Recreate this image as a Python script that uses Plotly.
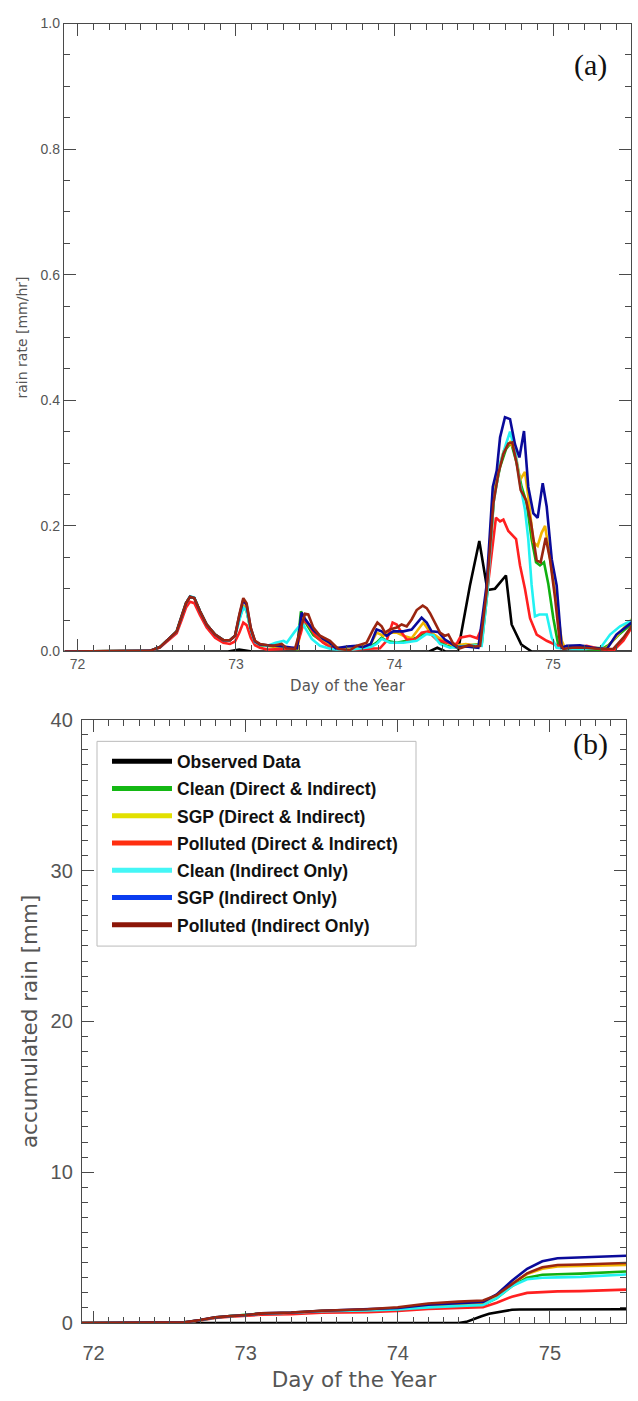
import plotly.graph_objects as go

# ---------------- panel (a): rain rate [mm/hr] ----------------
# shared first segment (71.92 - 73.15)
tA = [71.92, 72.40, 72.457, 72.52, 72.573, 72.626, 72.657, 72.685, 72.71, 72.737, 72.773,
      72.815, 72.868, 72.92, 72.962, 72.994, 73.021, 73.046, 73.067, 73.093, 73.12, 73.151]

obs_t = [71.92, 72.95, 73.02, 73.10, 74.22, 74.27, 74.32, 74.40, 74.476, 74.535, 74.586,
         74.634, 74.703, 74.739, 74.80, 74.865, 75.50]
obs_r = [0, 0, 0.003, 0, 0, 0.006, 0, 0, 0.105, 0.176, 0.098, 0.10, 0.121, 0.043, 0.011, 0, 0]

pid_t = tA + [73.2, 73.235, 73.288, 73.32, 73.372, 73.404, 73.435, 73.456, 73.488, 73.53, 73.593,
              73.645, 73.719, 73.761, 73.824, 73.866, 73.892, 73.919, 73.94, 73.971, 74.014,
              74.045, 74.077, 74.108, 74.14, 74.178, 74.203, 74.224, 74.255, 74.287, 74.318,
              74.34, 74.371, 74.413, 74.47, 74.51, 74.54,
              74.581, 74.624, 74.655, 74.687, 74.718, 74.743, 74.771, 74.796, 74.83, 74.861,
              74.897, 74.922, 74.954, 74.981, 75.013, 75.044, 75.065,
              75.12, 75.2, 75.3, 75.38, 75.444, 75.5]
pid_r = [0, 0, 0.001, 0.007, 0.019, 0.032, 0.056, 0.077, 0.087, 0.085, 0.064, 0.043, 0.027,
         0.018, 0.018, 0.025, 0.059, 0.085, 0.077, 0.038, 0.017, 0.012] + \
        [0.010, 0.009, 0.012, 0.005, 0.004, 0.032, 0.060, 0.059, 0.038, 0.025, 0.017,
         0.004, 0.002, 0.009, 0.014, 0.035, 0.046, 0.040, 0.030, 0.035, 0.038,
         0.043, 0.040, 0.051, 0.066, 0.073, 0.069, 0.061, 0.046, 0.030, 0.025,
         0.027, 0.012, 0.005, 0.010, 0.008, 0.009,
         0.095, 0.236, 0.283, 0.315, 0.331, 0.333, 0.299, 0.257, 0.241, 0.205,
         0.145, 0.142, 0.181, 0.147, 0.085, 0.012, 0.004,
         0.006, 0.006, 0.004, 0.004, 0.022, 0.042]

sio_t = tA + [73.2, 73.25, 73.3, 73.385, 73.40, 73.414, 73.435, 73.488, 73.55, 73.59, 73.63,
              73.70, 73.76, 73.80, 73.85, 73.887, 73.919, 73.95, 73.992, 74.056, 74.108,
              74.144, 74.171, 74.203, 74.234, 74.276, 74.318, 74.35, 74.392, 74.45, 74.5,
              74.529, 74.581, 74.62, 74.645, 74.666, 74.697, 74.729, 74.76, 74.788, 74.817,
              74.844, 74.876, 74.903, 74.935, 74.96, 74.992, 75.023, 75.055,
              75.086, 75.17, 75.25, 75.34, 75.40, 75.5]
sio_r = [0, 0, 0.001, 0.007, 0.019, 0.032, 0.056, 0.077, 0.087, 0.085, 0.064, 0.043, 0.027,
         0.018, 0.018, 0.025, 0.057, 0.082, 0.074, 0.037, 0.016, 0.011] + \
        [0.010, 0.009, 0.008, 0.005, 0.040, 0.062, 0.052, 0.034, 0.020, 0.014, 0.005,
         0.008, 0.009, 0.007, 0.012, 0.035, 0.032, 0.025, 0.032, 0.032, 0.035,
         0.046, 0.054, 0.046, 0.032, 0.031, 0.019, 0.014, 0.007, 0.008, 0.006,
         0.006, 0.105, 0.262, 0.288, 0.341, 0.373, 0.370, 0.330, 0.309, 0.351,
         0.262, 0.220, 0.213, 0.268, 0.231, 0.147, 0.105, 0.006,
         0.009, 0.010, 0.006, 0.004, 0.027, 0.047]

sdi_t = tA + [73.2, 73.25, 73.3, 73.388, 73.405, 73.42, 73.45, 73.49, 73.55, 73.61, 73.7,
              73.8, 73.85, 73.887, 73.93, 73.971, 74.014, 74.056, 74.108, 74.15, 74.182,
              74.213, 74.255, 74.308, 74.371, 74.45, 74.5, 74.55,
              74.586, 74.624, 74.655, 74.69, 74.729, 74.76, 74.792, 74.823, 74.844, 74.876,
              74.903, 74.928, 74.95, 74.977, 75.013, 75.055, 75.076,
              75.15, 75.25, 75.34, 75.42, 75.5]
sdi_r = [0, 0, 0.001, 0.007, 0.019, 0.032, 0.056, 0.077, 0.087, 0.085, 0.064, 0.043, 0.027,
         0.018, 0.018, 0.025, 0.053, 0.074, 0.066, 0.034, 0.015, 0.011] + \
        [0.009, 0.008, 0.006, 0.004, 0.035, 0.056, 0.045, 0.030, 0.017, 0.007, 0.004,
         0.008, 0.012, 0.030, 0.025, 0.030, 0.030, 0.025, 0.021, 0.035, 0.046,
         0.035, 0.026, 0.017, 0.009, 0.012, 0.010, 0.012,
         0.106, 0.262, 0.288, 0.320, 0.333, 0.320, 0.273, 0.286, 0.247, 0.174,
         0.168, 0.189, 0.200, 0.158, 0.095, 0.017, 0.005,
         0.005, 0.005, 0.006, 0.030, 0.052]

cdi_t = tA + [73.2, 73.25, 73.3, 73.385, 73.40, 73.41, 73.446, 73.488, 73.55, 73.61, 73.7,
              73.8, 73.85, 73.887, 73.919, 73.95, 74.014, 74.077, 74.14, 74.192, 74.234,
              74.276, 74.329, 74.4, 74.47, 74.55,
              74.586, 74.628, 74.666, 74.703, 74.735, 74.767, 74.802, 74.834, 74.865, 74.893,
              74.918, 74.943, 74.97, 75.002, 75.034,
              75.1, 75.2, 75.3, 75.35, 75.42, 75.5]
cdi_r = [0, 0, 0.001, 0.007, 0.019, 0.032, 0.056, 0.077, 0.087, 0.085, 0.064, 0.043, 0.027,
         0.018, 0.018, 0.025, 0.052, 0.072, 0.065, 0.034, 0.015, 0.010] + \
        [0.009, 0.008, 0.006, 0.004, 0.045, 0.064, 0.043, 0.026, 0.015, 0.006, 0.003,
         0.006, 0.008, 0.014, 0.022, 0.017, 0.014, 0.017, 0.022, 0.030, 0.027,
         0.017, 0.009, 0.006, 0.010, 0.012,
         0.095, 0.247, 0.294, 0.322, 0.333, 0.304, 0.262, 0.236, 0.179, 0.142,
         0.137, 0.142, 0.108, 0.053, 0.009,
         0.005, 0.004, 0.003, 0.010, 0.028, 0.045]

cio_t = tA + [73.2, 73.25, 73.3, 73.32, 73.372, 73.404, 73.418, 73.435, 73.478, 73.53, 73.6,
              73.7, 73.8, 73.85, 73.887, 73.919, 73.971, 74.056, 74.14, 74.203, 74.245,
              74.287, 74.35, 74.42, 74.48, 74.55,
              74.586, 74.624, 74.666, 74.703, 74.729, 74.76, 74.792, 74.823, 74.844, 74.865,
              74.886, 74.914, 74.96, 74.992, 75.023,
              75.1, 75.2, 75.3, 75.36, 75.423, 75.5]
cio_r = [0, 0, 0.001, 0.007, 0.019, 0.032, 0.056, 0.077, 0.088, 0.086, 0.064, 0.043, 0.027,
         0.018, 0.018, 0.025, 0.050, 0.070, 0.065, 0.035, 0.015, 0.011] + \
        [0.009, 0.014, 0.017, 0.014, 0.032, 0.042, 0.046, 0.038, 0.020, 0.009, 0.004,
         0.002, 0.005, 0.007, 0.012, 0.020, 0.014, 0.014, 0.017, 0.028, 0.026,
         0.012, 0.006, 0.008, 0.010, 0.009,
         0.095, 0.236, 0.299, 0.330, 0.350, 0.320, 0.267, 0.226, 0.179, 0.106,
         0.056, 0.059, 0.059, 0.022, 0.006,
         0.004, 0.004, 0.006, 0.027, 0.040, 0.050]

pdi_t = tA + [73.2, 73.3, 73.38, 73.41, 73.43, 73.46, 73.5, 73.55, 73.6, 73.7, 73.8, 73.866,
              73.908, 73.95, 73.988, 74.014, 74.045, 74.077, 74.129, 74.171, 74.213, 74.266,
              74.329, 74.392, 74.413, 74.476, 74.522,
              74.56, 74.602, 74.64, 74.666, 74.687, 74.718, 74.739, 74.767, 74.792, 74.823,
              74.855, 74.897, 74.96, 75.023, 75.086,
              75.15, 75.212, 75.3, 75.38, 75.444, 75.5]
pdi_r = [0, 0, 0.001, 0.006, 0.017, 0.029, 0.050, 0.070, 0.079, 0.077, 0.058, 0.038, 0.022,
         0.014, 0.012, 0.016, 0.030, 0.046, 0.042, 0.022, 0.010, 0.006] + \
        [0.003, 0.004, 0.006, 0.030, 0.050, 0.042, 0.025, 0.014, 0.006, 0.002, 0.004, 0.004,
         0.005, 0.017, 0.046, 0.043, 0.030, 0.019, 0.019, 0.030, 0.032, 0.019,
         0.014, 0.012, 0.022, 0.025, 0.021,
         0.043, 0.137, 0.213, 0.207, 0.210, 0.192, 0.187, 0.179, 0.137, 0.100,
         0.053, 0.027, 0.017, 0.010, 0.005,
         0.007, 0.009, 0.004, 0.001, 0.017, 0.040]

# ---------------- panel (b): accumulated rain [mm] ----------------
acc_obs_t = [71.92, 74.40, 74.45, 74.50, 74.55, 74.60, 74.65, 74.70, 74.75, 74.80, 75.50]
acc_obs = [0, 0, 0.08, 0.28, 0.45, 0.62, 0.72, 0.83, 0.88, 0.90, 0.92]

acc_t = [71.92, 72.45, 72.6, 72.7, 72.8, 72.9, 73.0, 73.1, 73.3, 73.5, 73.8, 74.0, 74.2,
         74.4, 74.56, 74.65, 74.75, 74.85, 74.95, 75.05, 75.2, 75.5]
acc_cdi = [0, 0, 0.05, 0.19, 0.37, 0.46, 0.52, 0.62, 0.67, 0.80, 0.85, 0.92, 1.05, 1.15,
           1.20, 1.65, 2.45, 3.00, 3.20, 3.24, 3.28, 3.42]
acc_sdi = [0, 0, 0.05, 0.19, 0.37, 0.46, 0.52, 0.62, 0.68, 0.82, 0.88, 0.97, 1.15, 1.27,
           1.33, 1.80, 2.60, 3.25, 3.60, 3.76, 3.78, 3.85]
acc_pdi = [0, 0, 0.05, 0.18, 0.34, 0.42, 0.47, 0.55, 0.58, 0.68, 0.72, 0.80, 0.93, 1.00,
           1.05, 1.35, 1.75, 2.00, 2.07, 2.10, 2.12, 2.22]
acc_cio = [0, 0, 0.05, 0.19, 0.37, 0.46, 0.52, 0.62, 0.68, 0.78, 0.84, 0.90, 1.04, 1.14,
           1.20, 1.65, 2.45, 2.90, 3.00, 3.03, 3.06, 3.22]
acc_sio = [0, 0, 0.05, 0.20, 0.38, 0.47, 0.53, 0.64, 0.70, 0.82, 0.90, 1.00, 1.22, 1.33,
           1.40, 1.90, 2.80, 3.60, 4.10, 4.30, 4.35, 4.46]
acc_pio = [0, 0, 0.05, 0.20, 0.38, 0.47, 0.53, 0.64, 0.70, 0.82, 0.92, 1.05, 1.30, 1.42,
           1.50, 1.85, 2.60, 3.30, 3.70, 3.85, 3.88, 3.98]

names = ["Observed Data", "Clean (Direct & Indirect)", "SGP (Direct & Indirect)",
         "Polluted (Direct & Indirect)", "Clean (Indirect Only)", "SGP (Indirect Only)",
         "Polluted (Indirect Only)"]
line_colors = ["#000000", "#10b010", "#f2b400", "#ff2020", "#22f2f2", "#0a0a9a", "#9a2510"]
legend_colors = ["#000000", "#14b814", "#e2e000", "#ff2e10", "#44f6f6", "#0a3cf0", "#8c1608"]

rate_series = [(obs_t, obs_r), (cdi_t, cdi_r), (sdi_t, sdi_r), (pdi_t, pdi_r),
               (cio_t, cio_r), (sio_t, sio_r), (pid_t, pid_r)]
acc_series = [(acc_obs_t, acc_obs), (acc_t, acc_cdi), (acc_t, acc_sdi), (acc_t, acc_pdi),
              (acc_t, acc_cio), (acc_t, acc_sio), (acc_t, acc_pio)]

fig = go.Figure()
for (t, r), c in zip(rate_series, line_colors):
    fig.add_trace(go.Scatter(x=t, y=r, mode="lines", line=dict(color=c, width=2.6),
                             showlegend=False, xaxis="x", yaxis="y"))
for (t, v), c in zip(acc_series, line_colors):
    fig.add_trace(go.Scatter(x=t, y=v, mode="lines", line=dict(color=c, width=2.6),
                             showlegend=False, xaxis="x2", yaxis="y2"))
for i, (c, n) in enumerate(zip(legend_colors, names)):
    fig.add_trace(go.Scatter(x=[None], y=[None], mode="lines", line=dict(color=c, width=5),
                             name=n, legendgroup="g%d" % i, showlegend=True,
                             xaxis="x2", yaxis="y2"))
# empty traces that only carry the overlaid tick axes
fig.add_trace(go.Scatter(x=[None], y=[None], mode="lines", showlegend=False,
                         hoverinfo="skip", xaxis="x3", yaxis="y3"))
fig.add_trace(go.Scatter(x=[None], y=[None], mode="lines", showlegend=False,
                         hoverinfo="skip", xaxis="x4", yaxis="y4"))

W, H = 638, 1401
axcol = "#4a4a4a"
TICKF = "Liberation Sans, Arial, sans-serif"
TITLEF = "DejaVu Sans, Verdana, sans-serif"
tickfont_a = dict(family=TICKF, size=14, color="#555555")
tickfont_b = dict(family=TICKF, size=20, color="#555555")

XDOM_A, XRNG_A = [64 / W, 631 / W], [71.915, 75.492]
YDOM_A, YRNG_A = [1 - 650.7 / H, 1 - 12.7 / H], [0, 1.0]
XDOM_B, XRNG_B = [82 / W, 626 / W], [71.924, 75.5]
YDOM_B, YRNG_B = [1 - 1333 / H, 1 - 720 / H], [0, 40]

def tickpart(t0, dt, mdt):
    return dict(tick0=t0, dtick=dt, ticks="inside", ticklen=12, tickwidth=1.4,
                tickcolor=axcol,
                minor=dict(dtick=mdt, ticks="inside", ticklen=6, tickwidth=1.4,
                           tickcolor=axcol),
                showline=True, linecolor=axcol, linewidth=1.4, mirror="allticks",
                showgrid=False, zeroline=False)

def xax(domain, rng, font, tsize, anchor, lab_off, standoff):
    d = dict(domain=domain, range=rng, anchor=anchor, tickfont=font,
             ticklabelstandoff=lab_off,
             title=dict(text="Day of the Year", font=dict(family=TITLEF, size=tsize,
                        color="#555555"), standoff=standoff))
    d.update(tickpart(72, 1, 0.1))
    return d

def yax(domain, rng, dt, mdt, fmt, font, title, tsize, anchor, lab_off, standoff):
    d = dict(domain=domain, range=rng, anchor=anchor, tickformat=fmt, tickfont=font,
             ticklabelstandoff=lab_off,
             title=dict(text=title, font=dict(family=TITLEF, size=tsize,
                        color="#555555"), standoff=standoff))
    d.update(tickpart(0, dt, mdt))
    return d

def overlay_x(over, rng, anchor):
    d = dict(overlaying=over, range=rng, anchor=anchor, showticklabels=False)
    d.update(tickpart(72, 1, 0.1))
    return d

def overlay_y(over, rng, dt, mdt, anchor):
    d = dict(overlaying=over, range=rng, anchor=anchor, showticklabels=False)
    d.update(tickpart(0, dt, mdt))
    return d

fig.update_layout(
    template="simple_white",
    width=W, height=H, margin=dict(l=0, r=0, t=0, b=0),
    paper_bgcolor="white", plot_bgcolor="white",
    xaxis=xax(XDOM_A, XRNG_A, tickfont_a, 15, "y", 0, 9),
    yaxis=yax(YDOM_A, YRNG_A, 0.2, 0.05, ".1f", tickfont_a,
              "rain rate [mm/hr]", 14, "x", 0, 9),
    xaxis2=xax(XDOM_B, XRNG_B, tickfont_b, 21.5, "y2", 12, 8),
    yaxis2=yax(YDOM_B, YRNG_B, 10, 1, "d", tickfont_b,
               "accumulated rain [mm]", 21.5, "x2", 4, 7),
    xaxis3=overlay_x("x", XRNG_A, "y3"),
    yaxis3=overlay_y("y", YRNG_A, 0.2, 0.05, "x3"),
    xaxis4=overlay_x("x2", XRNG_B, "y4"),
    yaxis4=overlay_y("y2", YRNG_B, 10, 1, "x4"),
    legend=dict(x=107 / W, y=1 - 744 / H, xanchor="left", yanchor="top",
                bgcolor="rgba(0,0,0,0)", borderwidth=0,
                font=dict(family="Liberation Sans, Arial, sans-serif", size=17.5,
                          color="#111111", weight="bold"),
                traceorder="grouped", tracegroupgap=1.5, itemwidth=60),
    shapes=[dict(type="rect", xref="paper", yref="paper",
                 x0=97 / W, x1=416 / W, y0=1 - 950 / H, y1=1 - 742 / H,
                 line=dict(color="#222222", width=1), fillcolor="white", layer="below")],
    annotations=[
        dict(text="(a)", x=590 / W, y=1 - 55 / H, xref="paper", yref="paper",
             xanchor="center", yanchor="middle", showarrow=False,
             font=dict(family="Liberation Serif, Times New Roman, serif",
                       size=30, color="#111111")),
        dict(text="(b)", x=590 / W, y=1 - 745 / H, xref="paper", yref="paper",
             xanchor="center", yanchor="middle", showarrow=False,
             font=dict(family="Liberation Serif, Times New Roman, serif",
                       size=30, color="#111111")),
    ],
)

fig.write_html("out.html")
